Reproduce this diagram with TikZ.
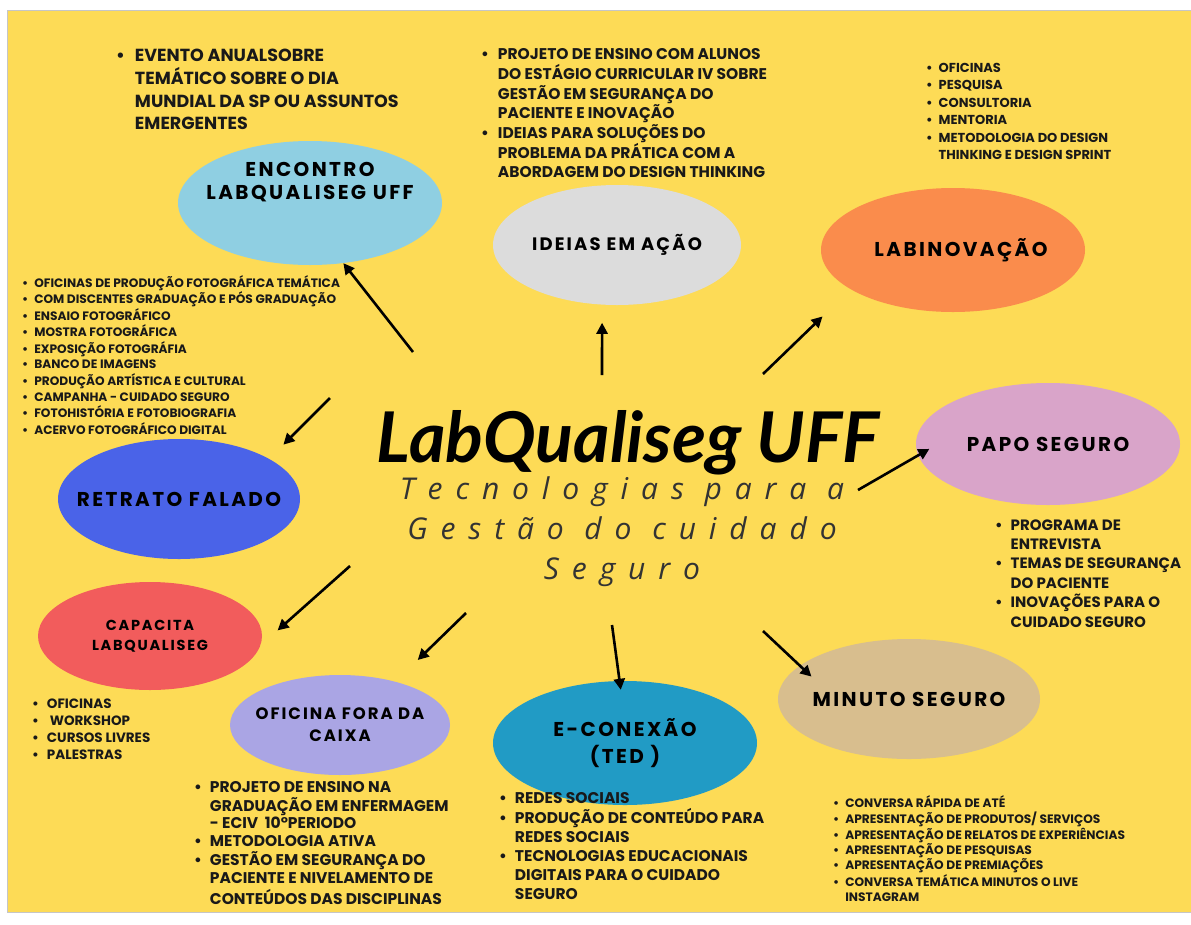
\documentclass[tikz,border=0pt]{standalone}
\usepackage{fontspec}
\setmainfont{Poppins}
\newfontfamily\lblfont[LetterSpace=12]{Poppins}
\newfontfamily\subfont[LetterSpace=43]{Open Sans}
\newfontfamily\titlefont{Lato}
\usetikzlibrary{arrows.meta,shapes.geometric}

\definecolor{bgyellow}{RGB}{253,219,86}
\definecolor{encblue}{RGB}{143,207,226}
\definecolor{idegrey}{RGB}{220,220,220}
\definecolor{inovorange}{RGB}{250,140,76}
\definecolor{papopink}{RGB}{217,164,201}
\definecolor{retblue}{RGB}{74,99,232}
\definecolor{capred}{RGB}{242,92,92}
\definecolor{ofilav}{RGB}{170,165,228}
\definecolor{conteal}{RGB}{33,155,197}
\definecolor{mintan}{RGB}{216,190,142}

\begin{document}
\begin{tikzpicture}[x=1pt, y=-1pt,
  bubble/.style={shape=ellipse, draw=none, inner sep=0pt},
  lbl/.style={font=\lblfont\bfseries\fontsize{20}{24}\selectfont, align=center, text=black},
  lst/.style={anchor=base west, inner sep=0pt, text=black!90},
  arr/.style={-{Triangle[length=11pt,width=11pt]}, line width=2.6pt}]
%%%%%%%%%%%%%%%%%%%%%%%%%%%%%%%%%%%%%%%%%%% HELP LINES
%\draw[help lines] (0,0) grid[step=100] (1191,924);
\useasboundingbox (0,0) rectangle (1191,924);
\fill[white] (0,0) rectangle (1191,924);
\draw[gray!45, fill=bgyellow] (7,10.5) rectangle (1196,912);

%%%%%%%%%%%%%%%%%%%%%%%%%%%%%%%%%%%%%%%%%%% bubbles
\node[bubble, fill=encblue, minimum width=264pt, minimum height=124pt,
  label={[lbl, font=\lblfont\bfseries\fontsize{20}{23}\selectfont, yshift=21pt]center:ENCONTRO\\LABQUALISEG UFF}](enc) at (310,203){};
\node[bubble, fill=idegrey, minimum width=248pt, minimum height=120pt,
  label={[lbl, font=\lblfont\bfseries\fontsize{18}{22}\selectfont]center:IDEIAS EM AÇÃO}](ideias) at (617,245){};
\node[bubble, fill=inovorange, minimum width=264pt, minimum height=124pt,
  label={[lbl, xshift=8pt]center:LABINOVAÇÃO}](inov) at (953,250){};
\node[bubble, fill=papopink, minimum width=264pt, minimum height=122pt,
  label={[lbl]center:PAPO SEGURO}](papo) at (1048,444){};
\node[bubble, fill=retblue, minimum width=242pt, minimum height=120pt,
  label={[lbl]center:RETRATO FALADO}](retrato) at (179,499){};
\node[bubble, fill=capred, minimum width=224pt, minimum height=108pt,
  label={[lbl, font=\lblfont\bfseries\fontsize{14.5}{20}\selectfont]center:CAPACITA\\LABQUALISEG}](capacita) at (150,636){};
\node[bubble, fill=ofilav, minimum width=220pt, minimum height=100pt,
  label={[lbl, font=\lblfont\bfseries\fontsize{16.5}{22}\selectfont]center:OFICINA FORA DA\\CAIXA}](oficina) at (340,725){};
\node[bubble, fill=conteal, minimum width=264pt, minimum height=124pt,
  label={[lbl, font=\lblfont\bfseries\fontsize{20}{27}\selectfont]center:E-CONEXÃO\\(TED )}](conexao) at (625,743){};
\node[bubble, fill=mintan, minimum width=262pt, minimum height=120pt,
  label={[lbl]center:MINUTO SEGURO}](minuto) at (909,699){};

%%%%% title
\node[anchor=base, inner sep=0pt, font=\titlefont\bfseries\itshape\fontsize{70}{70}\selectfont](title) at (628,462){LabQualiseg UFF};
\node[align=center, inner sep=0pt, text=black!80, font=\subfont\itshape\fontsize{30}{40}\selectfont](subtitle) at (622,532){Tecnologias para a\\Gestão do cuidado\\Seguro};

%%%%% arrows
\coordinate (tEnc) at (413,352);
\coordinate (tIde) at (602,375);
\coordinate (tInov) at (763,374);
\coordinate (tPapo) at (858,490);
\coordinate (tRet) at (330,398);
\coordinate (tCap) at (350,566);
\coordinate (tOfi) at (466,613);
\coordinate (tCon) at (612,625);
\coordinate (tMin) at (763,631);
\draw[arr] (tEnc) -- (enc.-61);
\draw[arr, shorten >=18pt] (tIde) -- (ideias.-104);
\draw[arr, shorten >=39pt] (tInov) -- (inov.-159);
\draw[arr, shorten >=-13pt] (tPapo) -- (papo.-175);
\draw[arr, shorten >=20pt] (tRet) -- (retrato.24);
\draw[arr, shorten >=23pt] (tCap) -- (capacita.-5);
\draw[arr, shorten >=31pt] (tOfi) -- (oficina.38);
\draw[arr, shorten >=-9pt] (tCon) -- (conexao.95);
\draw[arr, shorten >=-16pt] (tMin) -- (minuto.163);

%%%%% lists
\node[lst, font=\bfseries\fontsize{17.5}{22.5}\selectfont](encl) at (116,61){\begin{tabular}[t]{@{}l@{\hspace{10pt}}l@{}}
\textbullet & EVENTO ANUALSOBRE\\ & TEMÁTICO SOBRE O DIA\\ & MUNDIAL DA SP OU ASSUNTOS\\ & EMERGENTES
\end{tabular}};
\node[lst, font=\bfseries\fontsize{15.5}{18.6}\selectfont](idel) at (481,59){\begin{tabular}[t]{@{}l@{\hspace{9pt}}l@{}}
\textbullet & PROJETO DE ENSINO COM ALUNOS\\ & DO ESTÁGIO CURRICULAR IV SOBRE\\ & GESTÃO EM SEGURANÇA DO\\ & PACIENTE E INOVAÇÃO\\
\textbullet & IDEIAS PARA SOLUÇÕES DO\\ & PROBLEMA DA PRÁTICA COM A\\ & ABORDAGEM DO DESIGN THINKING
\end{tabular}};
\node[lst, font=\bfseries\fontsize{13}{17.4}\selectfont](inovl) at (926,72.5){\begin{tabular}[t]{@{}l@{\hspace{6pt}}l@{}}
\textbullet & OFICINAS\\ \textbullet & PESQUISA\\ \textbullet & CONSULTORIA\\ \textbullet & MENTORIA\\
\textbullet & METODOLOGIA DO DESIGN\\ & THINKING E DESIGN SPRINT
\end{tabular}};
\node[lst, font=\bfseries\fontsize{12.2}{15.6}\selectfont](retl) at (22,287){\begin{tabular}[t]{@{}l@{\hspace{6pt}}l@{}}
\textbullet & OFICINAS DE PRODUÇÃO FOTOGRÁFICA TEMÁTICA\\
\textbullet & COM DISCENTES GRADUAÇÃO E PÓS GRADUAÇÃO\\
\textbullet & ENSAIO FOTOGRÁFICO\\
\textbullet & MOSTRA FOTOGRÁFICA\\
\textbullet & EXPOSIÇÃO FOTOGRÁFIA\\
\textbullet & BANCO DE IMAGENS\\
\textbullet & PRODUÇÃO ARTÍSTICA E CULTURAL\\
\textbullet & CAMPANHA - CUIDADO SEGURO\\
\textbullet & FOTOHISTÓRIA E FOTOBIOGRAFIA\\
\textbullet & ACERVO FOTOGRÁFICO DIGITAL
\end{tabular}};
\node[lst, font=\bfseries\fontsize{13.5}{17}\selectfont](capl) at (32,708){\begin{tabular}[t]{@{}l@{\hspace{8pt}}l@{}}
\textbullet & OFICINAS\\ \textbullet & ~WORKSHOP\\ \textbullet & CURSOS LIVRES\\ \textbullet & PALESTRAS
\end{tabular}};
\node[lst, font=\bfseries\fontsize{15.5}{17.7}\selectfont](ofil) at (194,792){\begin{tabular}[t]{@{}l@{\hspace{8pt}}l@{}}
\textbullet & PROJETO DE ENSINO NA\\ & GRADUAÇÃO EM ENFERMAGEM\\ & - ECIV~~10°PERIODO\\
\textbullet & METODOLOGIA ATIVA\\
\textbullet & GESTÃO EM SEGURANÇA DO\\ & PACIENTE E NIVELAMENTO DE\\ & CONTEÚDOS DAS DISCIPLINAS
\end{tabular}};
\node[lst, font=\bfseries\fontsize{15.5}{19}\selectfont](conl) at (499,803){\begin{tabular}[t]{@{}l@{\hspace{8pt}}l@{}}
\textbullet & REDES SOCIAIS\\
\textbullet & PRODUÇÃO DE CONTEÚDO PARA\\ & REDES SOCIAIS\\
\textbullet & TECNOLOGIAS EDUCACIONAIS\\ & DIGITAIS PARA O CUIDADO\\ & SEGURO
\end{tabular}};
\node[lst, font=\bfseries\fontsize{12.2}{15}\selectfont](minl) at (833,807){\begin{tabular}[t]{@{}l@{\hspace{6pt}}l@{}}
\textbullet & CONVERSA RÁPIDA DE ATÉ\\
\textbullet & APRESENTAÇÃO DE PRODUTOS/ SERVIÇOS\\
\textbullet & APRESENTAÇÃO DE RELATOS DE EXPERIÊNCIAS\\
\textbullet & APRESENTAÇÃO DE PESQUISAS\\
\textbullet & APRESENTAÇÃO DE PREMIAÇÕES\\
\textbullet & CONVERSA TEMÁTICA MINUTOS O LIVE\\ & INSTAGRAM
\end{tabular}};
\node[lst, font=\bfseries\fontsize{15}{19.4}\selectfont](papol) at (995,530){\begin{tabular}[t]{@{}l@{\hspace{8pt}}l@{}}
\textbullet & PROGRAMA DE\\ & ENTREVISTA\\
\textbullet & TEMAS DE SEGURANÇA\\ & DO PACIENTE\\
\textbullet & INOVAÇÕES PARA O\\ & CUIDADO SEGURO
\end{tabular}};
\end{tikzpicture}
\end{document}
